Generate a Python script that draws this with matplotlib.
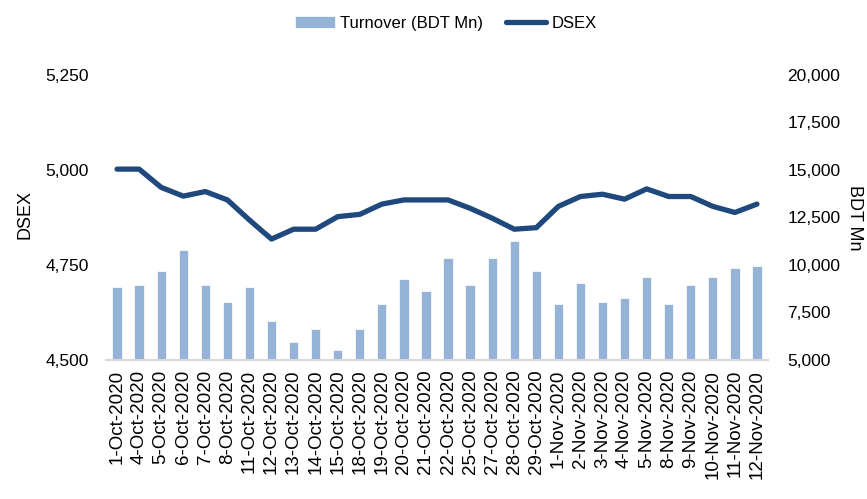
import matplotlib.pyplot as plt
from matplotlib.ticker import FuncFormatter

plt.rcParams['font.family'] = ['Liberation Sans', 'DejaVu Sans']

# Data
dates = ['1-Oct-2020', '4-Oct-2020', '5-Oct-2020', '6-Oct-2020', '7-Oct-2020',
         '8-Oct-2020', '11-Oct-2020', '12-Oct-2020', '13-Oct-2020', '14-Oct-2020',
         '15-Oct-2020', '18-Oct-2020', '19-Oct-2020', '20-Oct-2020', '21-Oct-2020',
         '22-Oct-2020', '25-Oct-2020', '27-Oct-2020', '28-Oct-2020', '29-Oct-2020',
         '1-Nov-2020', '2-Nov-2020', '3-Nov-2020', '4-Nov-2020', '5-Nov-2020',
         '8-Nov-2020', '9-Nov-2020', '10-Nov-2020', '11-Nov-2020', '12-Nov-2020']
dsex = [5002, 5002, 4954, 4931, 4943, 4921, 4868, 4818, 4844, 4844,
        4877, 4883, 4910, 4921, 4921, 4921, 4899, 4873, 4844, 4848,
        4904, 4930, 4936, 4923, 4950, 4930, 4930, 4904, 4888, 4910]
turnover = [8830, 8930, 9700, 10810, 8930, 8050, 8830, 7070, 5970, 6630,
            5530, 6630, 7950, 9260, 8610, 10370, 8930, 10390, 11260, 9700,
            7950, 9050, 8050, 8280, 9370, 7950, 8930, 9370, 9820, 9930]

bar_color = '#95B3D7'
line_color = '#1F497D'

fig = plt.figure(figsize=(8.67, 4.99), dpi=100)
ax = fig.add_axes([0.1223, 0.2786, 0.7635, 0.5714])
ax2 = ax.twinx()

x = range(len(dates))
bars = ax2.bar(x, turnover, width=0.42, color=bar_color, edgecolor='white',
               linewidth=0.5, label='Turnover (BDT Mn)', zorder=1)
line, = ax.plot(x, dsex, color=line_color, linewidth=3.8,
                solid_capstyle='round', solid_joinstyle='round', label='DSEX')

# line on top of bars
ax.set_zorder(ax2.get_zorder() + 1)
ax.patch.set_visible(False)

ax.set_xlim(-0.5, len(dates) - 0.5)
ax.set_ylim(4500, 5250)
ax.set_yticks([4500, 4750, 5000, 5250])
ax2.set_ylim(5000, 20000)
ax2.set_yticks([5000, 7500, 10000, 12500, 15000, 17500, 20000])

fmt = FuncFormatter(lambda v, p: f'{v:,.0f}')
ax.yaxis.set_major_formatter(fmt)
ax2.yaxis.set_major_formatter(fmt)

ax.set_xticks(list(x))
ax.set_xticklabels(dates, rotation=90, fontsize=13.5)

for a in (ax, ax2):
    for s in ['top', 'left', 'right', 'bottom']:
        a.spines[s].set_visible(False)
    a.tick_params(length=0)
    a.tick_params(axis='y', labelsize=12.5)
ax.spines['bottom'].set_visible(True)
ax.spines['bottom'].set_color('#D9D9D9')
ax.spines['bottom'].set_linewidth(1.5)

ax.tick_params(axis='y', pad=12.5)
ax2.tick_params(axis='y', pad=14)
ax.tick_params(axis='x', pad=7)

ax.set_ylabel('DSEX', fontsize=13, va='center', ha='center')
ax.yaxis.set_label_coords(-0.122, 0.51)
ax2.set_ylabel('BDT Mn', fontsize=13, rotation=-90, va='center', ha='center',
               rotation_mode='anchor')
ax2.yaxis.set_label_coords(1.131, 0.5)

fig.legend(handles=[bars, line], labels=['Turnover (BDT Mn)', 'DSEX'],
           loc='upper center', bbox_to_anchor=(0.514, 0.998), ncol=2,
           frameon=False, fontsize=12,
           handlelength=2.4, handletextpad=0.3, columnspacing=1.4)

plt.savefig('out.png', dpi=100)
